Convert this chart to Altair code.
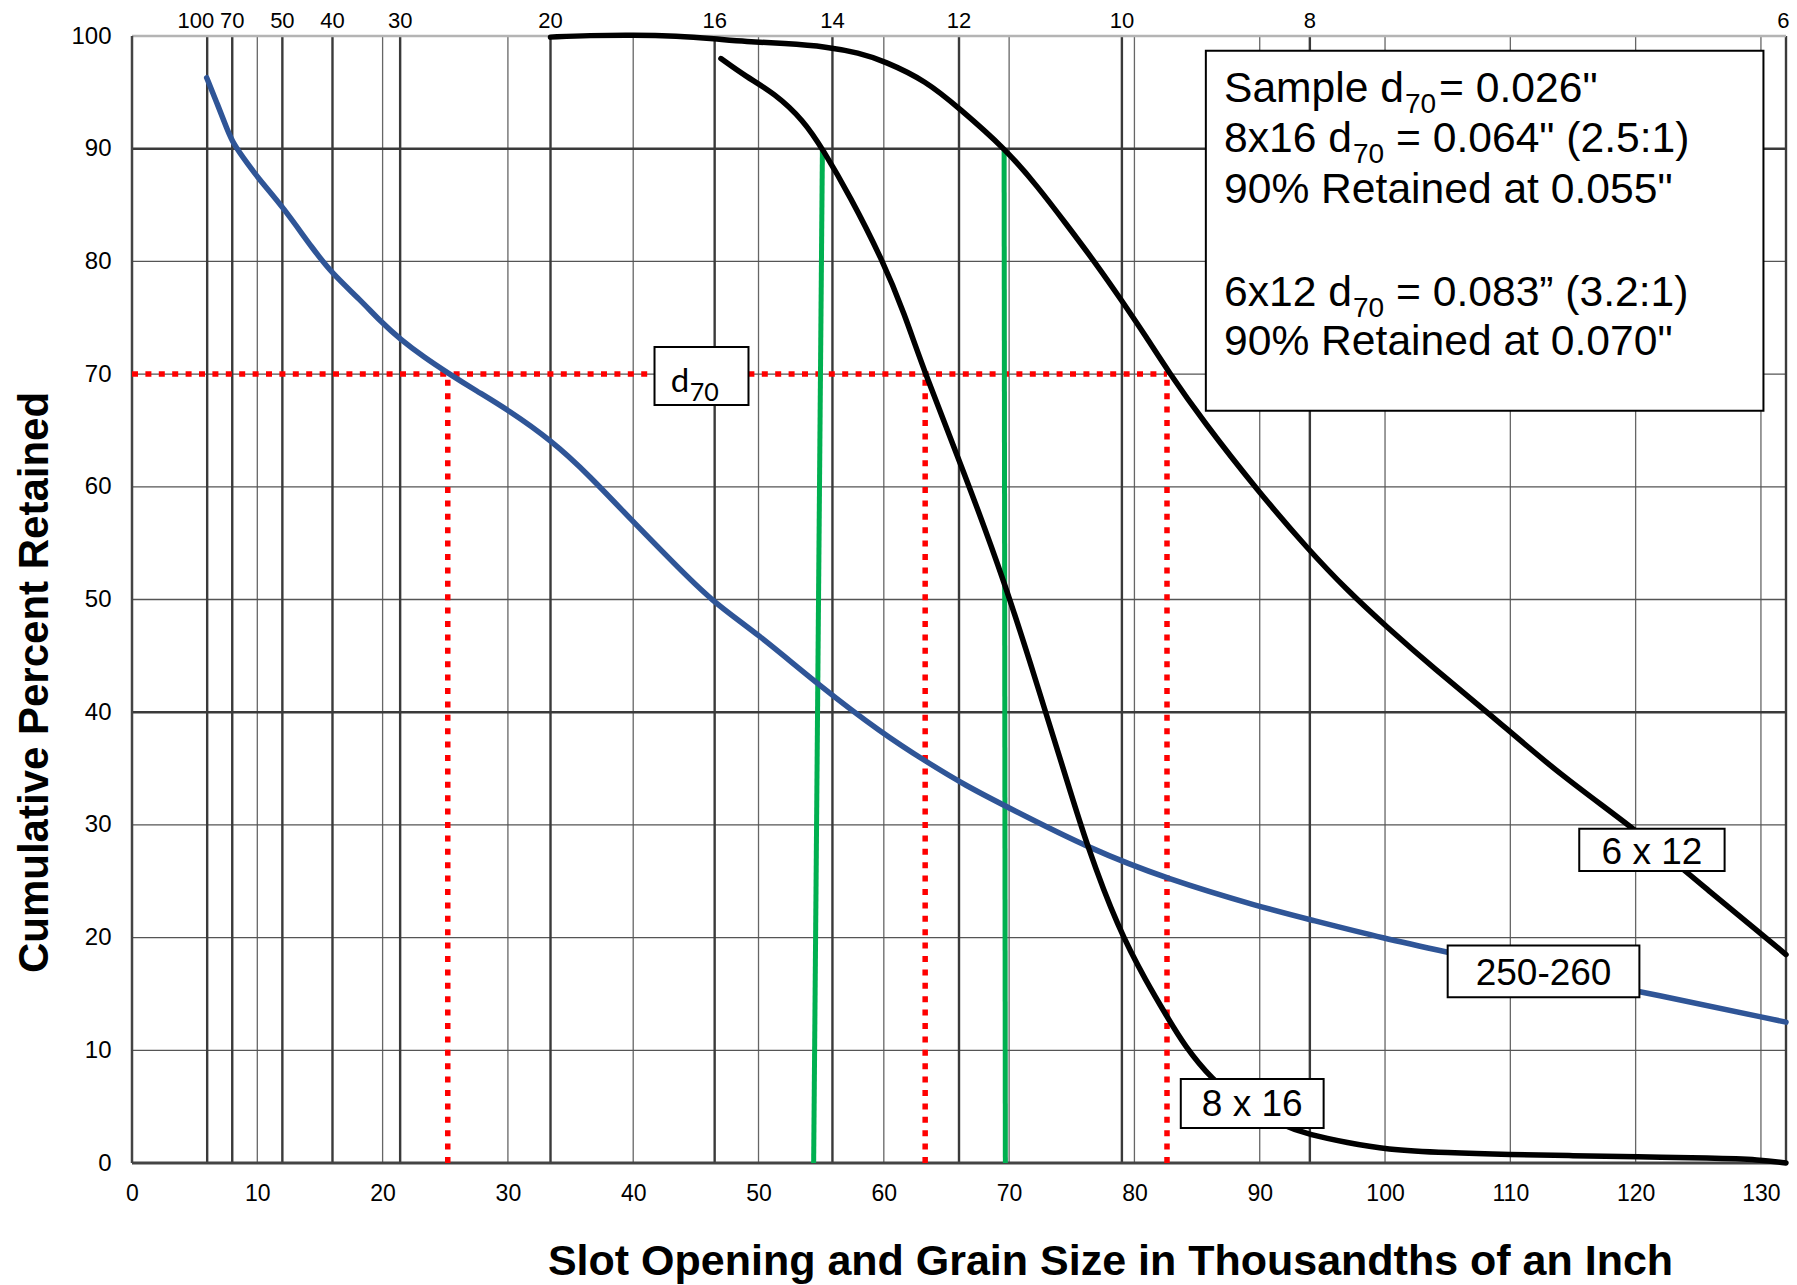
import altair as alt
import pandas as pd

# ---------------- data ----------------
X_MAX = 132
X_TICKS = list(range(0, 131, 10))
Y_TICKS = list(range(0, 101, 10))

# sieve numbers (top axis) and their openings (thousandths of an inch)
SIEVE_SIZE = [6.0, 8.0, 12.0, 16.0, 21.4, 33.4, 46.5, 55.9, 66.0, 79.0, 94.0, 132.0]
SIEVE_LABEL = ["100", "70", "50", "40", "30", "20", "16", "14", "12", "10", "8", "6"]
SIEVE_LABEL_X = [5.1, 8.0, 12.0, 16.0, 21.4, 33.4, 46.5, 55.9, 66.0, 79.0, 94.0, 131.8]

THIN_V = [10, 20, 30, 40, 50, 60, 70, 80, 90, 100, 110, 120, 130]
THIN_H = [10, 20, 30, 50, 60, 70, 80]
THICK_H = [40, 90]

# sample 250-260 (blue)
SAMPLE_X = [5.96, 6.8, 7.6, 8.1, 9.2, 10.2, 12.0, 14.5, 16.0, 18.2, 19.9, 21.4, 23.3, 25.2,
            27.5, 29.9, 33.5, 36.5, 39.9, 43.0, 46.3, 49.9, 54.8, 59.9, 63.4, 66.5, 70.0,
            76.4, 82.6, 90.1, 94.0, 100.0, 105.0, 110.0, 120.0, 132.0]
SAMPLE_Y = [96.3, 94.0, 91.7, 90.4, 88.7, 87.2, 84.9, 81.0, 78.9, 76.6, 74.6, 73.1, 71.5, 70.1,
            68.5, 66.9, 64.1, 61.0, 57.0, 53.5, 49.8, 47.0, 42.4, 38.1, 35.6, 33.5, 31.5,
            27.9, 25.2, 22.7, 21.6, 19.9, 18.7, 17.5, 15.3, 12.5]

# 8 x 16 gravel pack
S816_X = [47.0, 49.0, 51.3, 53.6, 55.1, 57.3, 59.9, 61.6, 63.3, 66.3, 69.7, 72.3, 74.6, 76.2,
          78.7, 81.0, 82.6, 84.0, 86.2, 88.5, 91.8, 94.0, 97.0, 100.0, 105.0, 110.0, 115.0,
          120.0, 126.0, 130.0, 132.0]
S816_Y = [98.0, 96.4, 94.9, 92.5, 90.0, 85.8, 80.1, 75.5, 70.0, 61.6, 51.4, 42.2, 34.0, 28.2,
          20.8, 16.0, 13.0, 10.4, 7.4, 5.3, 3.3, 2.5, 1.8, 1.2, 0.9, 0.75, 0.65, 0.55, 0.45,
          0.3, 0.0]

# 6 x 12 gravel pack
S612_X = [33.4, 36.5, 40.0, 43.5, 46.5, 49.0, 52.0, 55.5, 58.0, 60.0, 63.4, 66.0, 69.7, 72.3,
          74.5, 77.0, 79.0, 81.0, 82.6, 85.5, 89.8, 93.9, 97.0, 100.0, 104.0, 108.4, 114.0,
          120.0, 126.0, 132.0]
S612_Y = [99.9, 100.05, 100.1, 100.0, 99.75, 99.5, 99.35, 99.05, 98.5, 97.8, 96.0, 93.6, 90.0,
          86.6, 83.4, 79.7, 76.5, 73.2, 70.4, 65.8, 59.7, 54.4, 50.8, 47.7, 43.8, 39.8, 34.4,
          29.6, 24.0, 18.5]

# 90 % retained lines (green)
GREEN_X0 = [54.4, 69.7]
GREEN_X1 = [55.1, 69.6]
GREEN_TOP = 90

# d70 construction lines (red dotted)
D70_LEVEL = 70
D70_X = [25.2, 63.3, 82.6]

# curve label boxes
BOX_LABELS = ["6 x 12", "250-260", "8 x 16"]
BOX_X0 = [115.5, 105.0, 83.7]
BOX_X1 = [127.1, 120.3, 95.1]
BOX_Y0 = [25.9, 14.7, 3.1]
BOX_Y1 = [29.65, 19.3, 7.45]
BOX_TX = [121.3, 112.65, 89.4]
BOX_TY = [26.55, 15.8, 4.15]

# info box
INFO_BOX = [85.7, 130.2, 66.75, 98.7]
INFO_X = 87.15
INFO_PRE = ["Sample d", "8x16 d", '90% Retained at 0.055"', "6x12 d", '90% Retained at 0.070"']
INFO_SUB = ["70", "70", "", "70", ""]
INFO_SUF = ['= 0.026"', '= 0.064" (2.5:1)', "", "= 0.083\u201d (3.2:1)", ""]
INFO_GAP = [3, 12, 0, 12, 0]
INFO_Y = [94.17, 89.73, 85.15, 76.0, 71.7]

# d70 box
D70_BOX = [41.7, 49.2, 67.25, 72.4]
D70_TX = 43.0
D70_TY = 68.4
D70_SUBY = 67.6

# ---------------- helpers ----------------
FONT = "Liberation Sans"
XS = alt.Scale(domain=[0, X_MAX], nice=False, zero=False)
YS = alt.Scale(domain=[0, 100], nice=False, zero=False)

AW = {'S': .667, 'a': .556, 'm': .833, 'p': .556, 'l': .222, 'e': .556, ' ': .278, 'd': .556,
      '8': .556, 'x': .5, '1': .556, '6': .556, '2': .556, '7': .556, '0': .556}


def tw(s, size):
    return sum(AW.get(c, .556) for c in s) * size


X_AXIS = alt.Axis(values=X_TICKS, title="Slot Opening and Grain Size in Thousandths of an Inch",
                  grid=False, domain=False, ticks=False, labelFontSize=23, labelPadding=19,
                  labelColor="black", labelFont=FONT, labelFlush=False, labelOverlap=False,
                  titleFont=FONT, titleFontSize=43, titleFontWeight="bold", titleColor="black",
                  titleX=978, titleY=111, titleAlign="center", titleBaseline="alphabetic")
Y_AXIS = alt.Axis(values=Y_TICKS, title="Cumulative Percent Retained",
                  grid=False, domain=False, ticks=False, labelFontSize=24, labelPadding=21,
                  labelColor="black", labelFont=FONT, labelFlush=False, labelOverlap=False,
                  titleFont=FONT, titleFontSize=42, titleFontWeight="bold", titleColor="black",
                  titleAngle=270, titleX=-85, titleY=646, titleAlign="center",
                  titleBaseline="alphabetic")


def X(field="x"):
    return alt.X(f"{field}:Q", scale=XS, axis=X_AXIS)


def Y(field="y"):
    return alt.Y(f"{field}:Q", scale=YS, axis=Y_AXIS)


def vrules(xs, color, width, y0=0, y1=100, dash=None):
    df = pd.DataFrame({"x": xs, "y0": [y0] * len(xs), "y1": [y1] * len(xs)})
    kw = dict(color=color, strokeWidth=width)
    if dash:
        kw.update(strokeDash=dash, strokeCap="butt")
    return alt.Chart(df).mark_rule(**kw).encode(x=X("x"), y=Y("y0"), y2="y1")


def hrules(ys, color, width, x0=0, x1=X_MAX, dash=None):
    df = pd.DataFrame({"y": ys, "x0": [x0] * len(ys), "x1": [x1] * len(ys)})
    kw = dict(color=color, strokeWidth=width)
    if dash:
        kw.update(strokeDash=dash, strokeCap="butt")
    return alt.Chart(df).mark_rule(**kw).encode(y=Y("y"), x=X("x0"), x2="x1")


def text(x, y, t, size, dx=0, dy=0, align="left", font=FONT):
    df = pd.DataFrame({"x": [x], "y": [y], "t": [t]})
    return alt.Chart(df).mark_text(align=align, baseline="alphabetic", dx=dx, dy=dy,
                                   fontSize=size, font=font, color="black").encode(
        x=X(), y=Y(), text="t:N")


def box(x0, x1, y0, y1, sw=2):
    df = pd.DataFrame({"x0": [x0], "x1": [x1], "y0": [y0], "y1": [y1]})
    return alt.Chart(df).mark_rect(fill="white", stroke="black", strokeWidth=sw).encode(
        x=X("x0"), x2="x1", y=Y("y0"), y2="y1")


def curve(xs, ys, color):
    df = pd.DataFrame({"x": xs, "y": ys})
    return alt.Chart(df).mark_line(color=color, strokeWidth=5.5, interpolate="basis",
                                   strokeCap="round").encode(x=X(), y=Y())


layers = []
# grid
layers.append(vrules(THIN_V, "#666666", 1.3))
layers.append(hrules(THIN_H, "#555555", 1.3))
layers.append(hrules(THICK_H, "#3a3a3a", 2.5))
layers.append(vrules(SIEVE_SIZE, "#3a3a3a", 2.4))
layers.append(hrules([100], "#b4b4b4", 2.5))
layers.append(hrules([0], "#444444", 3))
layers.append(vrules([0], "#444444", 2.5))

# red d70 construction lines
layers.append(hrules([D70_LEVEL], "#FF0000", 5.5, x0=0, x1=D70_X[-1], dash=[6, 7.4]))
layers.append(vrules(D70_X, "#FF0000", 5.5, y0=0, y1=D70_LEVEL, dash=[6, 7.4]))

# green 90% retained lines
gdf = pd.DataFrame({"x0": GREEN_X0, "x1": GREEN_X1, "y0": [0] * 2, "y1": [GREEN_TOP] * 2})
layers.append(alt.Chart(gdf).mark_rule(color="#00B050", strokeWidth=5).encode(
    x=X("x0"), x2="x1", y=Y("y0"), y2="y1"))

# curves
layers.append(curve(SAMPLE_X, SAMPLE_Y, "#2F5597"))
layers.append(curve(S816_X, S816_Y, "black"))
layers.append(curve(S612_X, S612_Y, "black"))

# label boxes
for i, lab in enumerate(BOX_LABELS):
    layers.append(box(BOX_X0[i], BOX_X1[i], BOX_Y0[i], BOX_Y1[i]))
    layers.append(text(BOX_TX[i], BOX_TY[i], lab, 37, align="center"))

# d70 box
layers.append(box(*D70_BOX))
layers.append(text(D70_TX, D70_TY, "d", 33, font="Lato"))
layers.append(text(D70_TX, D70_SUBY, "70", 25, dx=19, font="Lato"))

# info box
layers.append(box(*INFO_BOX))
MAIN, SUB = 42.6, 28
for i in range(len(INFO_PRE)):
    layers.append(text(INFO_X, INFO_Y[i], INFO_PRE[i], MAIN))
    if INFO_SUB[i]:
        w0 = tw(INFO_PRE[i], MAIN)
        layers.append(text(INFO_X, INFO_Y[i], INFO_SUB[i], SUB, dx=w0 + 1, dy=11))
        w1 = w0 + 1 + tw(INFO_SUB[i], SUB) + INFO_GAP[i]
        layers.append(text(INFO_X, INFO_Y[i], INFO_SUF[i], MAIN, dx=w1))

# top sieve labels
sdf = pd.DataFrame({"x": SIEVE_LABEL_X, "t": SIEVE_LABEL})
layers.append(alt.Chart(sdf).mark_text(baseline="alphabetic", fontSize=22, font=FONT,
                                       color="black").encode(
    x=X(), y=alt.value(-8), text="t:N"))

chart = alt.layer(*layers).properties(
    width=1654, height=1127,
    autosize=alt.AutoSizeParams(type="none"),
    padding={"left": 132, "top": 36, "right": 11, "bottom": 122},
    background="white",
).configure(font=FONT).configure_view(stroke=None)

chart.save("out.html", embed_options={"renderer": "svg", "actions": False})
